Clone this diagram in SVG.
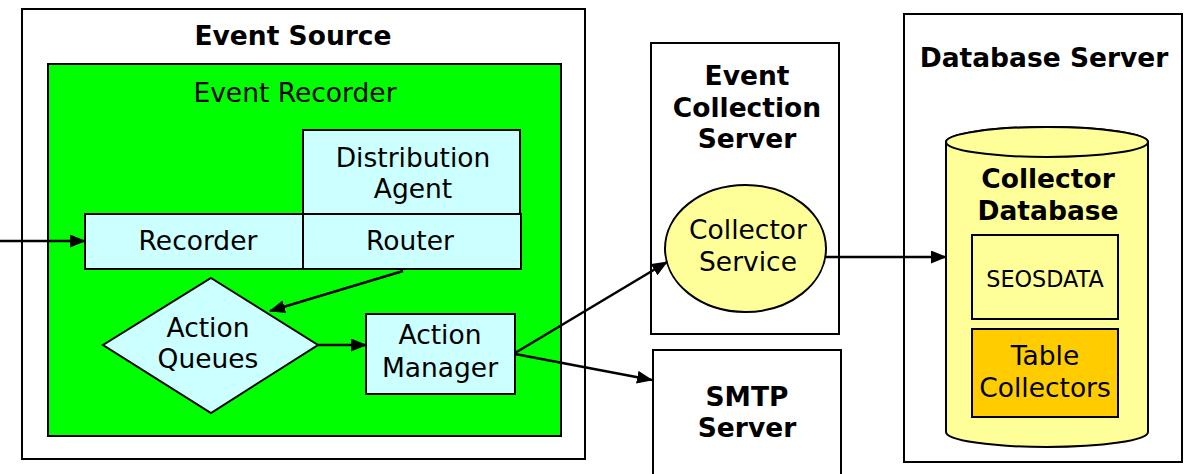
<svg xmlns="http://www.w3.org/2000/svg" width="1184" height="474" viewBox="0 0 1184 474">
  <style>
    text { font-family: "DejaVu Sans", Verdana, sans-serif; font-size: 26.5px; fill: #000; text-anchor: middle; }
    .b { font-weight: bold; }
    .box { stroke: #000; stroke-width: 2; }
    .white { fill: #fff; }
    .cyan { fill: #ccffff; }
    .yellow { fill: #ffff99; }
    .orange { fill: #ffcc00; }
    .edge { stroke: #000; stroke-width: 2.5; fill: none; marker-end: url(#arrow); }
  </style>
  <defs>
    <marker id="arrow" markerWidth="16" markerHeight="13" refX="15" refY="6.5" orient="auto" markerUnits="userSpaceOnUse">
      <path d="M0,0 L16,6.5 L0,13 Z" fill="#000"/>
    </marker>
  </defs>

  <rect width="1184" height="474" fill="#fff"/>

  <!-- Event Source host -->
  <g id="event-source">
    <rect class="box white" x="22" y="9" width="563" height="450"/>
    <text class="b" x="293" y="45">Event Source</text>
  </g>

  <!-- Event Recorder container -->
  <g id="event-recorder">
    <rect class="box" fill="#00ff00" x="48" y="64" width="513" height="372"/>
    <text x="295" y="102">Event Recorder</text>
  </g>

  <g id="distribution-agent">
    <rect class="box cyan" x="303" y="130" width="217" height="84"/>
    <text x="413" y="167">Distribution</text>
    <text x="413" y="198">Agent</text>
  </g>

  <g id="recorder">
    <rect class="box cyan" x="85" y="214" width="218" height="55"/>
    <text x="198" y="250">Recorder</text>
  </g>

  <g id="router">
    <rect class="box cyan" x="303" y="214" width="218" height="55"/>
    <text x="410" y="250">Router</text>
  </g>

  <g id="action-queues">
    <polygon class="box cyan" points="211,278 318,345 211,413 103,345"/>
    <text x="208" y="337">Action</text>
    <text x="208" y="368">Queues</text>
  </g>

  <g id="action-manager">
    <rect class="box cyan" x="366" y="314" width="149" height="80"/>
    <text x="440" y="344">Action</text>
    <text x="440" y="377">Manager</text>
  </g>

  <!-- Event Collection Server -->
  <g id="event-collection-server">
    <rect class="box white" x="651" y="43" width="188" height="291"/>
    <text class="b" x="747" y="85">Event</text>
    <text class="b" x="747" y="117">Collection</text>
    <text class="b" x="747" y="148">Server</text>
  </g>

  <g id="collector-service">
    <ellipse class="box yellow" cx="745.5" cy="248.5" rx="80.5" ry="63.5"/>
    <text x="748" y="239">Collector</text>
    <text x="748" y="271">Service</text>
  </g>

  <!-- SMTP Server -->
  <g id="smtp-server">
    <rect class="box white" x="653" y="350" width="188" height="130"/>
    <text class="b" x="747" y="406">SMTP</text>
    <text class="b" x="747" y="437">Server</text>
  </g>

  <!-- Database Server -->
  <g id="database-server">
    <rect class="box white" x="904" y="14" width="278" height="448"/>
    <text class="b" x="1044" y="67">Database Server</text>
  </g>

  <g id="collector-database">
    <path class="box yellow" d="M946,142 L946,432 A101,15 0 0 0 1148,432 L1148,142 A101,15 0 0 0 946,142 Z"/>
    <ellipse class="box yellow" cx="1047" cy="142" rx="101" ry="15"/>
    <text class="b" x="1048" y="188">Collector</text>
    <text class="b" x="1048" y="220">Database</text>
  </g>

  <g id="seosdata">
    <rect class="box yellow" x="972" y="235" width="146" height="84"/>
    <text x="1045" y="287" style="font-size:22.3px">SEOSDATA</text>
  </g>

  <g id="table-collectors">
    <rect class="box orange" x="972" y="329" width="146" height="88"/>
    <text x="1045" y="365">Table</text>
    <text x="1045" y="397">Collectors</text>
  </g>

  <!-- Connectors -->
  <g id="connectors">
    <line class="edge" x1="0" y1="241" x2="85" y2="241"/>
    <line class="edge" x1="403" y1="271" x2="270" y2="311"/>
    <line class="edge" x1="318" y1="345" x2="366" y2="345"/>
    <line class="edge" x1="515" y1="353" x2="667" y2="262"/>
    <line class="edge" x1="515" y1="354" x2="652" y2="380"/>
    <line class="edge" x1="826" y1="257" x2="946" y2="257"/>
  </g>
</svg>
